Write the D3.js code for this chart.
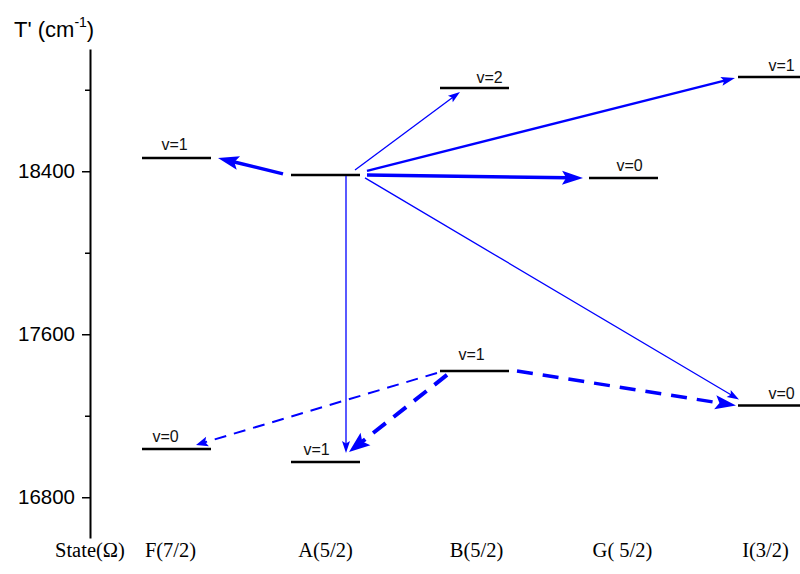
<!DOCTYPE html>
<html><head><meta charset="utf-8">
<script src="https://cdn.jsdelivr.net/npm/d3@7"></script>
<style>body{margin:0;background:#fff}</style>
</head><body><svg id="c" width="800" height="574"></svg>
<script>
// ---- data ----
const states = ["F(7/2)","A(5/2)","B(5/2)","G( 5/2)","I(3/2)"];
const levelIds = ["F0","F1","A1","Aup","B1","B2","G0","I0","I1"];
const levelStates = ["F(7/2)","F(7/2)","A(5/2)","A(5/2)","B(5/2)","B(5/2)","G( 5/2)","I(3/2)","I(3/2)"];
const levelLabels = ["v=0","v=1","v=1","","v=1","v=2","v=0","v=0","v=1"];
const levelValues = [17037,18465,16973,18382,17420,18809,18367,17250,18863];
const arrowFrom = ["Aup","Aup","Aup","Aup","Aup","Aup","B1","B1","B1"];
const arrowTo   = ["F1","B2","I1","G0","I0","A1","F0","A1","I0"];
const arrowDashed = [false,false,false,false,false,false,true,true,true];
const yTicks = [16800,17600,18400];
const yMinorTicks = [17200,18000,18800];
const yDomain = [16600,19000];
const yTitle = "T' (cm";
const xTitle = "State(Ω)";

// ---- layout / style (pixels) ----
const labelOffset = {F0:[-11,-7],F1:[-2,-8],A1:[-9,-7],Aup:[0,0],B1:[-3,-11],B2:[15,-5],G0:[6,-7],I0:[9,-7],I1:[9,-6]};
const stateLabelDx = [-6,0,2,-1,-7];
// [fromSide, fdx, fdy, toSide, tdx, tdy, strokeWidth, headLen, headHalf, dash]
const arrowStyle = [
  ["left",-8,-1,"right",7,0,3.5,21,7,null],
  ["right",-5,-5,"left",20,4,1.3,12,4,null],
  ["right",7,-4,"left",-3,1,2.3,14,4.5,null],
  ["right",7,0,"left",-6,0,3.5,21,7,null],
  ["right",5,3,"left",1,-6,1.3,12,4,null],
  ["left",55,1,"left",55,-9,1.3,12,4,null],
  ["left",-3,2,"right",-15,-4,2,12,5,"12,8"],
  ["left",7,4,"left",58,-10,4,21,8,"16,10"],
  ["right",8,0,"left",-2,0,3.5,21,7,"16,10"]
];

const svg = d3.select("#c");
const x = d3.scalePoint().domain(states).range([176.5,772.5]);
const y = d3.scaleLinear().domain(yDomain).range([538,49]);
const half = 34.5;
const blue = "#0000ff";
const sans = "'Liberation Sans',Arial,sans-serif";

// y axis
const axMaj = d3.axisLeft(y).tickValues(yTicks).tickFormat(d3.format("d")).tickSize(8).tickSizeOuter(0).tickPadding(7);
const gA = svg.append("g").attr("transform","translate(90,0)").call(axMaj);
gA.select(".domain").attr("stroke","#000").attr("stroke-width",2);
gA.selectAll(".tick line").attr("stroke","#000").attr("stroke-width",1.5);
gA.selectAll(".tick text").attr("font-family",sans).attr("font-size",20.5).attr("fill","#000");
const axMin = d3.axisLeft(y).tickValues(yMinorTicks).tickFormat("").tickSize(5).tickSizeOuter(0);
const gM = svg.append("g").attr("transform","translate(90,0)").call(axMin);
gM.select(".domain").remove();
gM.selectAll(".tick line").attr("stroke","#000").attr("stroke-width",1.5);

// y title
const t = svg.append("text").attr("x",14).attr("y",37)
  .attr("font-family",sans).attr("font-size",22).attr("fill","#000");
t.append("tspan").text(yTitle);
t.append("tspan").attr("font-size",14).attr("dy",-10).text("-1");
t.append("tspan").attr("dy",10).text(")");

// bottom labels
const serif = "'Liberation Serif','Times New Roman',serif";
svg.append("text").attr("x",55).attr("y",557).attr("font-family",serif).attr("font-size",20.5).text(xTitle);
svg.selectAll("text.st").data(states).join("text").attr("class","st")
  .attr("x",(d,i)=>x(d)+stateLabelDx[i]).attr("y",557).attr("text-anchor","middle")
  .attr("font-family",serif).attr("font-size",20.5).text(d=>d);

// levels
const levels = levelIds.map((id,i)=>({id,state:levelStates[i],label:levelLabels[i],value:levelValues[i]}));
const lmap = {}; levels.forEach(l=>lmap[l.id]=l);
svg.selectAll("line.lv").data(levels).join("line").attr("class","lv")
  .attr("x1",d=>x(d.state)-half).attr("x2",d=>x(d.state)+half)
  .attr("y1",d=>y(d.value)).attr("y2",d=>y(d.value))
  .attr("stroke","#000").attr("stroke-width",2.5);
svg.selectAll("text.lvl").data(levels.filter(d=>d.label)).join("text").attr("class","lvl")
  .attr("x",d=>x(d.state)+labelOffset[d.id][0]).attr("y",d=>y(d.value)+labelOffset[d.id][1])
  .attr("text-anchor","middle").attr("font-family",sans)
  .attr("font-size",16).attr("fill","#111").text(d=>d.label);

// arrows
function anchor(id, side, dx, dy){
  const l = lmap[id]; const cx = x(l.state);
  return [(side==="left"?cx-half:cx+half)+dx, y(l.value)+dy];
}
arrowFrom.forEach((f,i)=>{
  const s = arrowStyle[i];
  const p0 = anchor(f,s[0],s[1],s[2]);
  const p1 = anchor(arrowTo[i],s[3],s[4],s[5]);
  const dx = p1[0]-p0[0], dy = p1[1]-p0[1], L = Math.hypot(dx,dy);
  const ux = dx/L, uy = dy/L, px = -uy, py = ux;
  const hl = s[7], hh = s[8];
  const bx = p1[0]-ux*hl, by = p1[1]-uy*hl;
  const ln = svg.append("line").attr("x1",p0[0]).attr("y1",p0[1])
    .attr("x2",p1[0]-ux*hl*0.7).attr("y2",p1[1]-uy*hl*0.7)
    .attr("stroke",blue).attr("stroke-width",s[6]);
  if (arrowDashed[i]) ln.attr("stroke-dasharray",s[9]);
  const nx = p1[0]-ux*hl*0.8, ny = p1[1]-uy*hl*0.8;
  svg.append("path").attr("d",`M${p1[0]},${p1[1]}L${bx+px*hh},${by+py*hh}L${nx},${ny}L${bx-px*hh},${by-py*hh}Z`)
    .attr("fill",blue);
});
</script></body></html>
